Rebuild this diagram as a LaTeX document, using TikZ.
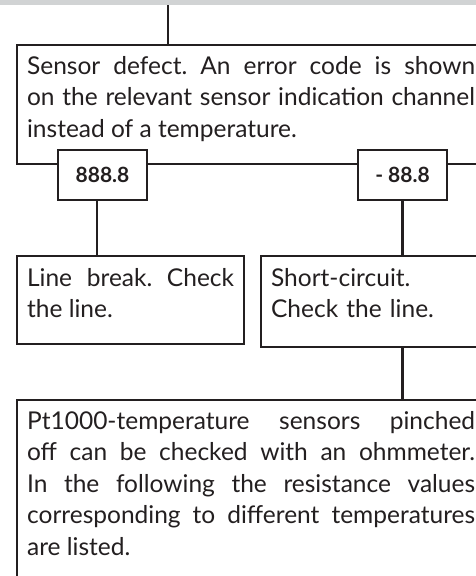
\documentclass[tikz,border=0pt]{standalone}
\usepackage{fontspec}
\setmainfont{Lato}
\usetikzlibrary{positioning}
\definecolor{ink}{HTML}{231F20}
\definecolor{band}{HTML}{D1D3D4}
\frenchspacing
% strut at the top and depth at the bottom of a text box
\newcommand{\topgap}[1]{\rule{0pt}{#1}}
\newcommand{\botgap}[1]{\rule[-#1]{0pt}{0pt}}

\begin{document}
\begin{tikzpicture}[x=1pt,y=-1pt,line width=2.2pt,
    infobox/.style={draw=ink, fill=white, text=ink, anchor=north west, inner xsep=10pt, inner ysep=0pt,
      font=\fontsize{24.5}{31.5}\selectfont},
    codebox/.style={draw=ink, fill=white, text=ink, minimum width=89pt, minimum height=50pt,
      font=\fontsize{21}{24}\selectfont\bfseries}]
    \useasboundingbox (0,0) rectangle (476,576);
    \clip (0,0) rectangle (476,576);
    \fill[band] (0,0) rectangle (476,5);
    \coordinate (top) at (168,5);
    \node[infobox, text width=448pt, align=justify] (defect) at (16,43.5)
      {\topgap{29.5pt}Sensor defect. An error code is shown\linebreak on the relevant sensor indication channel\linebreak instead of a temperature.\botgap{26.5pt}};
    \node[codebox] (c1) at (102.5,175) {888.8};
    \node[codebox] (c2) at (402.5,175) {- 88.8};
    \node[infobox, text width=207pt, align=justify] (brk) at (16,255)
      {\topgap{30pt}Line break. Check\linebreak the line.\botgap{26.5pt}};
    \node[infobox, text width=210pt, align=left] (short) at (260,255)
      {\topgap{30pt}Short-circuit.\\ Check the line.\botgap{29.5pt}};
    \node[infobox, text width=448pt, align=justify] (pt) at (16,399)
      {\topgap{29pt}Pt1000-temperature sensors pinched\linebreak off can be checked with an ohmmeter.\linebreak In the following the resistance values\linebreak corresponding to different temperatures\linebreak are listed.\botgap{45pt}};
    \draw[ink] (top) -- (top |- defect.north);
    \draw[ink] ([xshift=-5.5pt]c1.south) -- ([xshift=-5.5pt]c1.south |- brk.north);
    \draw[ink] (c2.south) -- (c2.south |- short.north);
    \draw[ink] (short.south -| c2) -- (pt.north -| c2);
\end{tikzpicture}
\end{document}
